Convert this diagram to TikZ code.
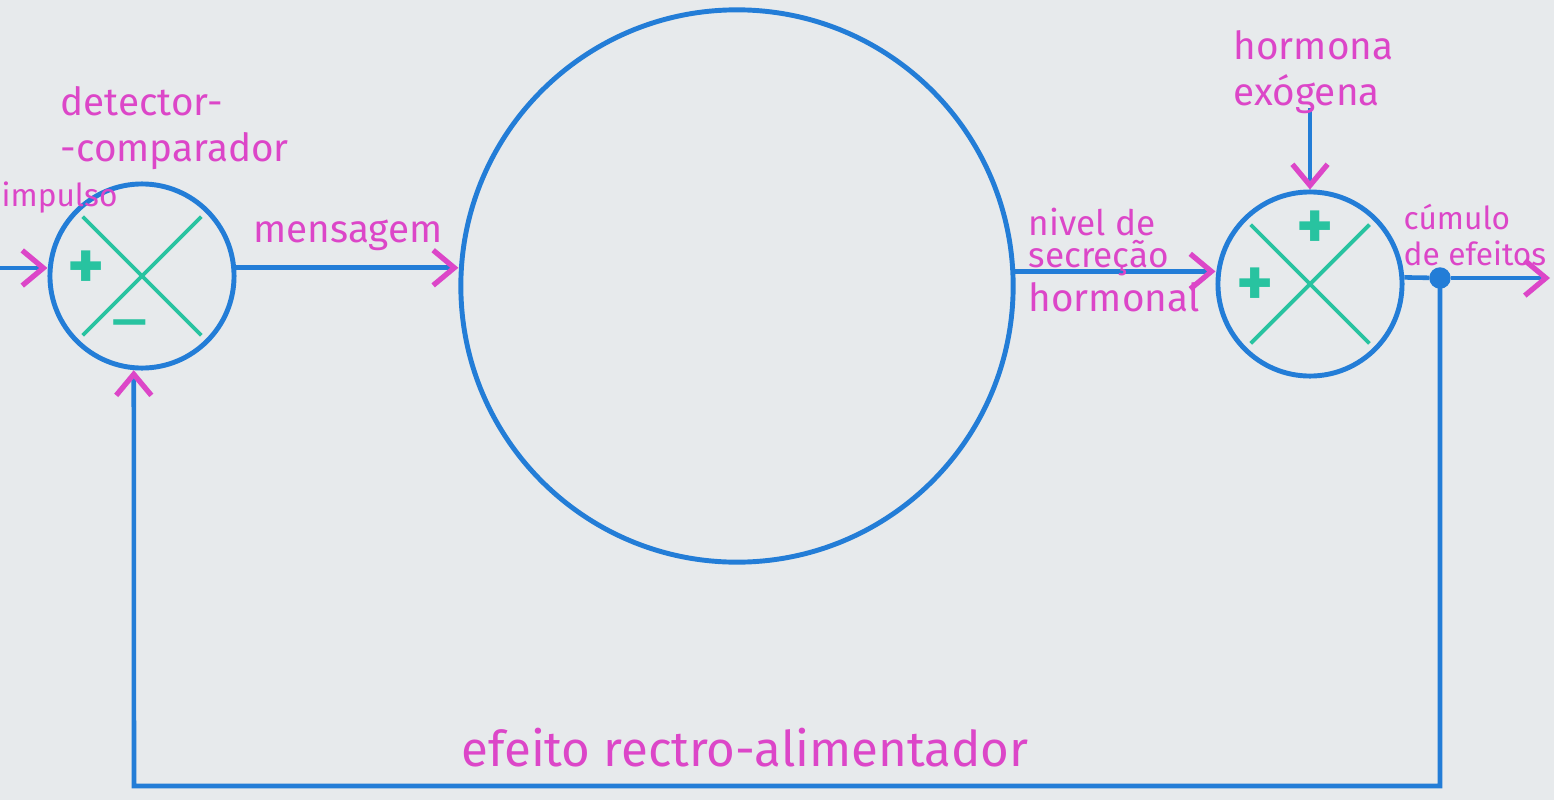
\documentclass[tikz,border=0pt]{standalone}
\usepackage{fontspec}
\setmainfont{Fira Sans}
\usetikzlibrary{arrows.meta,positioning,calc}
\definecolor{wireblue}{RGB}{35,125,215}
\definecolor{labelpink}{RGB}{220,70,200}
\definecolor{signgreen}{RGB}{40,195,160}
\definecolor{paper}{RGB}{231,234,236}
\tikzset{
  sumnode/.style={circle, draw=wireblue, line width=1.4pt, minimum size=1.84cm, inner sep=0pt},
  wire/.style={wireblue, line width=1.3pt},
  arr/.style={wire, -{Straight Barb[color=labelpink, length=6pt, width=10pt, line width=1.5pt]}},
  lbl/.style={text=labelpink, font=\fontsize{11}{13}\selectfont, align=left, inner sep=0pt},
  sgn/.style={text=signgreen, font=\fontsize{20}{20}\selectfont\bfseries, inner sep=0pt},
  cross/.style={signgreen, line width=1.1pt, shorten <=3pt, shorten >=3pt}
}
\begin{document}
\begin{tikzpicture}[x=0.01cm, y=-0.01cm]
  \fill[paper] (0,0) rectangle (1554,800);
  \useasboundingbox (0,0) rectangle (1554,800);

  % Comparators and gland
  \node[sumnode] (det) at (142,276) {};
  \node[sumnode, minimum size=5.52cm] (gland) at (737,286) {};
  \node[sumnode] (sum) at (1310,284) {};

  % Crosses and signs
  \foreach \c in {det,sum} {
    \draw[cross] (\c.135) -- (\c.-45);
    \draw[cross] (\c.45) -- (\c.225);
  }
  \node[sgn] (p1) at (86,270) {+};
  \node[sgn, font=\fontsize{20}{20}\selectfont] (m1) at (130,332) {–};
  \node[sgn] (p2) at (1315,230) {+};
  \node[sgn] (p3) at (1255,287) {+};

  % Signal ends
  \coordinate (in) at (0,268);
  \coordinate (exo) at (1310,108);
  \coordinate (out) at (1550,278);
  \coordinate (fb) at (134,786);
  \node[circle, fill=wireblue, draw=wireblue, minimum size=0.2cm, inner sep=0pt] (jn) at (1440,278) {};

  % Connections
  \draw[arr] (in) -- (in -| det.west);
  \draw[arr] (det.5) -- (det.5 -| gland.west);
  \draw[arr] (gland.3) -- (gland.3 -| sum.west);
  \draw[arr] (exo) -- (sum.north);
  \draw[wire] (sum.4) -- (jn);
  \draw[arr] (jn) -- (out);
  \draw[arr] (jn.center) |- (fb) -- (det.265);

  % Labels
  \node[lbl, anchor=west] (detl) at (60,128) {detector-\\-comparador};
  \node[lbl, anchor=west, font=\fontsize{9}{9}\selectfont] (imp) at (1,198) {impulso};
  \node[lbl] (msg) at (348,235) {mensagem};
  \node[lbl, anchor=west, font=\fontsize{10}{9}\selectfont] (sec) at (1028,242) {nivel de\\secreção};
  \node[lbl, anchor=west] (horm) at (1028,297) {hormonal};
  \node[lbl, anchor=west] (exol) at (1233,72) {hormona\\exógena};
  \node[lbl, anchor=west, font=\fontsize{9}{10}\selectfont] (cum) at (1403,235) {cúmulo\\de efeitos};
  \node[lbl, font=\fontsize{14}{14}\selectfont] (fbl) at (745,748) {efeito rectro-alimentador};
\end{tikzpicture}
\end{document}
